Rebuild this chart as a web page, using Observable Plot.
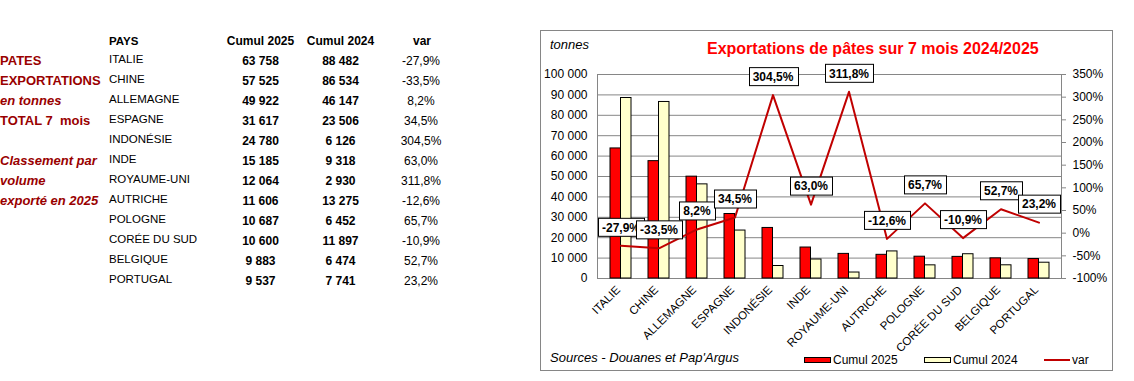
<!DOCTYPE html>
<html><head><meta charset="utf-8">
<script src="https://cdn.jsdelivr.net/npm/d3@7"></script>
<script src="https://cdn.jsdelivr.net/npm/@observablehq/plot@0.6"></script>
<style>
body{margin:0;background:#fff;font-family:"Liberation Sans",Arial,sans-serif;}
#root{position:relative;width:1134px;height:381px;overflow:hidden;background:#fff;}
.t{position:absolute;white-space:pre;line-height:16px;height:16px;color:#000;}
#frame{position:absolute;left:540px;top:30px;width:573px;height:341px;box-sizing:border-box;border:1px solid #868686;}
#chart{position:absolute;left:541px;top:31px;}
</style></head><body><div id="root"><div id="frame"></div><div id="chart"></div></div>
<script>
// ---- data ----
const countries = ["ITALIE","CHINE","ALLEMAGNE","ESPAGNE","INDONÉSIE","INDE","ROYAUME-UNI","AUTRICHE","POLOGNE","CORÉE DU SUD","BELGIQUE","PORTUGAL"];
const cumul2025 = [63758,57525,49922,31617,24780,15185,12064,11606,10687,10600,9883,9537];
const cumul2024 = [88482,86534,46147,23506,6126,9318,2930,13275,6452,11897,6474,7741];
const varPct = [-27.9,-33.5,8.2,34.5,304.5,63.0,311.8,-12.6,65.7,-10.9,52.7,23.2];
const leftTicks = [0,10000,20000,30000,40000,50000,60000,70000,80000,90000,100000];
const rightTicks = [-100,-50,0,50,100,150,200,250,300,350];
const tableHeaders = ["PAYS","Cumul 2025","Cumul 2024","var"];
const sideNotes = ["PATES","EXPORTATIONS","en tonnes","TOTAL 7  mois","","Classement par","volume","exporté en 2025"];
const seriesNames = ["Cumul 2025","Cumul 2024","var"];
const seriesColors = ["#FF0000","#FFFFCC","#C00000"];
const chartTitle = "Exportations de pâtes sur 7 mois 2024/2025";
const unitLabel = "tonnes";
const sourceText = "Sources - Douanes et Pap'Argus";

// ---- helpers ----
const root = document.getElementById("root");
const fmtK = d => d3.format(",")(d).replace(/,/g, " ");
const fmtPct = v => (v < 0 ? "-" : "") + Math.abs(v).toFixed(1).replace(".", ",") + "%";
function place(text, o) {
  const el = document.createElement("div");
  el.className = "t";
  el.textContent = text;
  const s = el.style;
  s.top = (o.yc - 8) + "px";
  if (o.center !== undefined) { s.left = (o.center - 100) + "px"; s.width = "200px"; s.textAlign = "center"; }
  else s.left = o.left + "px";
  s.fontSize = (o.size || 12) + "px";
  if (o.bold) s.fontWeight = "bold";
  if (o.italic) s.fontStyle = "italic";
  if (o.color) s.color = o.color;
  root.appendChild(el);
  return el;
}

// ---- left table ----
const dark = "#990000";
sideNotes.forEach((t, i) => {
  if (!t) return;
  place(t, {left: 0, yc: 61 + 20 * i, size: 13, bold: true, italic: [2,5,6,7].includes(i), color: dark});
});
place(tableHeaders[0], {left: 109, yc: 41, size: 11.5, bold: true});
place(tableHeaders[1], {center: 260.5, yc: 41, size: 12, bold: true});
place(tableHeaders[2], {center: 340.5, yc: 41, size: 12, bold: true});
place(tableHeaders[3], {center: 422, yc: 41, size: 12, bold: true});
countries.forEach((c, i) => {
  place(c, {left: 109, yc: 59 + 20 * i, size: 11.5});
  place(fmtK(cumul2025[i]), {center: 260.5, yc: 61 + 20 * i, size: 12, bold: true});
  place(fmtK(cumul2024[i]), {center: 340.5, yc: 61 + 20 * i, size: 12, bold: true});
  place(fmtPct(varPct[i]), {center: 421, yc: 61 + 20 * i, size: 12});
});

// ---- chart texts ----
place(chartTitle, {center: 807, yc: 48.5, size: 16, bold: true, color: "#FF0000"});
place(unitLabel, {left: 550, yc: 44.5, size: 13, italic: true});
place(sourceText, {left: 550, yc: 358, size: 13, italic: true});

// legend
function swatch(left, top, w, h, css) {
  const el = document.createElement("div");
  el.style.position = "absolute";
  el.style.left = left + "px"; el.style.top = top + "px";
  el.style.width = w + "px"; el.style.height = h + "px";
  el.style.boxSizing = "border-box";
  Object.assign(el.style, css);
  root.appendChild(el);
}
swatch(804, 357, 27, 6, {background: seriesColors[0], border: "1px solid #000"});
place(seriesNames[0], {left: 833, yc: 360, size: 12});
swatch(924, 357, 27, 6, {background: seriesColors[1], border: "1px solid #000"});
place(seriesNames[1], {left: 953, yc: 360, size: 12});
swatch(1044, 359, 26, 2, {background: seriesColors[2]});
place(seriesNames[2], {left: 1072, yc: 360, size: 12});

// ---- plot ----
const pctScale = d3.scaleLinear().domain([rightTicks[0], rightTicks[rightTicks.length - 1]])
  .range([leftTicks[0], leftTicks[leftTicks.length - 1]]);
const data = countries.map((c, i) => ({
  country: c, v25: cumul2025[i], v24: cumul2024[i], pct: varPct[i], py: pctScale(varPct[i])
}));

const chart = Plot.plot({
  width: 571, height: 339,
  marginLeft: 56, marginRight: 51, marginTop: 43, marginBottom: 92,
  style: {fontFamily: '"Liberation Sans",Arial,sans-serif', fontSize: "12px", color: "#000", background: "transparent"},
  x: {type: "band", domain: countries, paddingInner: 0.457, paddingOuter: 0.2285, axis: null},
  y: {domain: [0, 100000], label: null},
  marks: [
    Plot.gridY(leftTicks, {stroke: "#868686", strokeOpacity: 1}),
    Plot.frame({stroke: "#868686"}),
    Plot.axisY(leftTicks, {anchor: "left", tickSize: 0, tickPadding: 10, tickFormat: fmtK, fontSize: 12, label: null}),
    Plot.axisY(rightTicks.map(pctScale), {anchor: "right", tickSize: 4, tickPadding: 7, stroke: "#868686",
      tickFormat: d => Math.round(pctScale.invert(d)) + "%", fontSize: 12, label: null}),
    Plot.barY(data, {x: "country", y: "v25", fill: seriesColors[0], stroke: "#000", strokeWidth: 1, insetRight: 10.5}),
    Plot.barY(data, {x: "country", y: "v24", fill: seriesColors[1], stroke: "#000", strokeWidth: 1, insetLeft: 10.5}),
    Plot.line(data, {x: "country", y: "py", stroke: seriesColors[2], strokeWidth: 2}),
    Plot.text(data, {x: "country", y: "py", text: d => fmtPct(d.pct), dy: -18, fontWeight: "bold", fontSize: 12, fill: "#000"}),
    Plot.text(countries, {x: d => d, frameAnchor: "bottom", dy: 12, rotate: -45, textAnchor: "end", fontSize: 11.5, fill: "#000"})
  ]
});
document.getElementById("chart").appendChild(chart);

// boxes behind the data labels (first text mark = var labels)
const ns = "http://www.w3.org/2000/svg";
const labelTexts = new Set(varPct.map(fmtPct));
chart.querySelectorAll("text").forEach(t => {
  if (t.closest('g[aria-label="text"]') === null) return;
  if (!labelTexts.has(t.textContent)) return;
  const bb = t.getBBox();
  const r = document.createElementNS(ns, "rect");
  r.setAttribute("x", Math.round(bb.x - 4) + 0.5);
  r.setAttribute("y", Math.round(bb.y - 2.5) + 0.5);
  r.setAttribute("width", Math.round(bb.width + 8));
  r.setAttribute("height", Math.round(bb.height + 4));
  r.setAttribute("fill", "#fff");
  r.setAttribute("stroke", "#000");
  r.setAttribute("stroke-width", 1);
  const tr = t.getAttribute("transform");
  if (tr) r.setAttribute("transform", tr);
  t.parentNode.insertBefore(r, t);
});
</script>
</body></html>
